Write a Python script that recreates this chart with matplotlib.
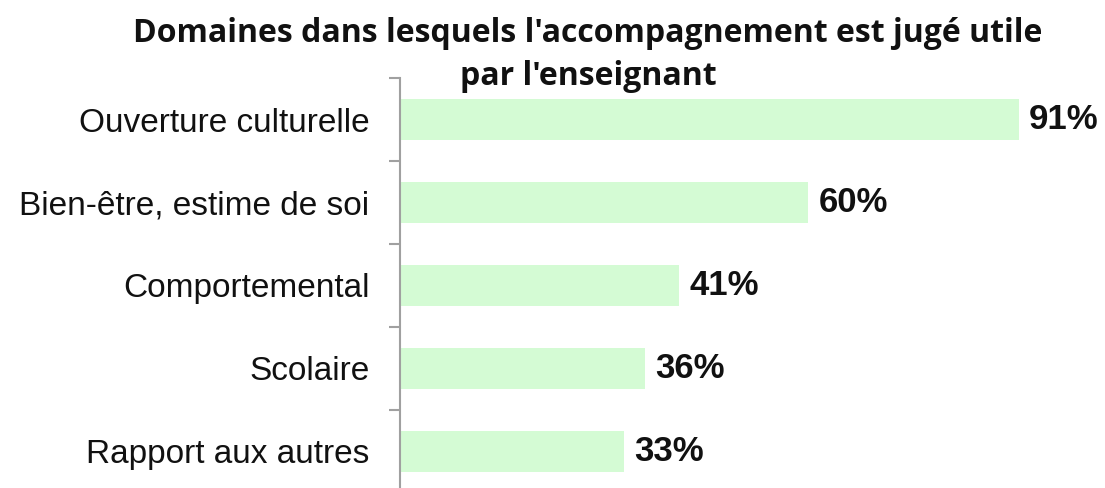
import matplotlib.pyplot as plt

# Data
categories = ['Ouverture culturelle', 'Bien-être, estime de soi', 'Comportemental',
              'Scolaire', 'Rapport aux autres']
values = [91, 60, 41, 36, 33]
value_labels = ['91%', '60%', '41%', '36%', '33%']

fig = plt.figure(figsize=(11.05, 4.88), dpi=100)
ax = fig.add_axes([0.362, -0.010, 0.6155, 0.850])

pos = list(range(len(categories)))[::-1]
ax.barh(pos, values, height=0.49, color='#d4fbd4', edgecolor='none')

for p, v, lab in zip(pos, values, value_labels):
    ax.text(v + 1.5, p, lab, va='center', ha='left', fontsize=25,
            fontweight='bold', family='Liberation Sans', color='#111111')

ax.set_xlim(0, 100)
ax.set_ylim(-0.5, len(categories) - 0.5)
ax.set_yticks(pos)
ax.set_yticklabels(categories, fontsize=24, family='Liberation Sans', color='#111111')
# ticks between categories
ax.set_yticks([i - 0.5 for i in range(len(categories) + 1)], minor=True)
ax.tick_params(axis='y', which='major', length=0, pad=22)
ax.tick_params(axis='y', which='minor', length=8, width=1.5, color='#a0a0a0')
ax.set_xticks([])

for s in ['top', 'right', 'bottom']:
    ax.spines[s].set_visible(False)
ax.spines['left'].set_color('#a0a0a0')
ax.spines['left'].set_linewidth(1.5)

fig.text(0.532, 0.965, "Domaines dans lesquels l'accompagnement est jugé utile\npar l'enseignant",
         ha='center', va='top', fontsize=23, fontweight='bold', family='Open Sans',
         linespacing=1.4, color='#111111')

fig.savefig('out.png', dpi=100)
